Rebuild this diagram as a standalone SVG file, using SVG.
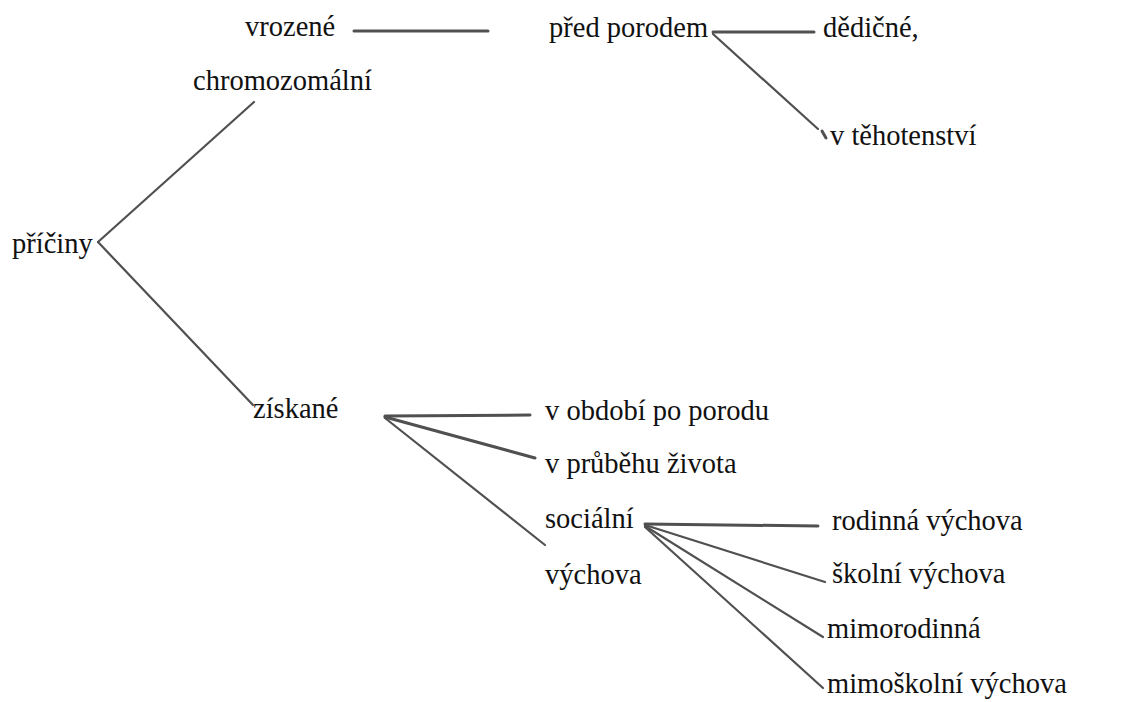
<svg xmlns="http://www.w3.org/2000/svg" width="1140" height="702" viewBox="0 0 1140 702">
<style>
text{font-family:"Liberation Serif","Times New Roman",serif;font-size:28.5px;fill:#111}
.c line{stroke:#505050;stroke-width:2.2;stroke-linecap:round}
.c .h{stroke-width:3}
</style>
<rect width="1140" height="702" fill="#fff"/>
<g class="c" id="connectors">
<line class="h" x1="354" y1="31" x2="488" y2="31"/>
<line class="h" x1="713" y1="32" x2="814" y2="32"/>
<line x1="713" y1="34" x2="818" y2="129"/>
<line x1="822" y1="131" x2="826" y2="138" style="stroke-width:3"/>
<line x1="254" y1="102" x2="98" y2="242"/>
<line x1="98" y1="242" x2="253" y2="405"/>
<line class="h" x1="385" y1="416" x2="530" y2="415"/>
<line class="h" x1="385" y1="417" x2="535" y2="458"/>
<line x1="385" y1="418" x2="545" y2="545"/>
<line class="h" x1="645" y1="524" x2="818" y2="526"/>
<line x1="645" y1="525" x2="825" y2="582"/>
<line x1="645" y1="526" x2="823" y2="637"/>
<line x1="645" y1="527" x2="823" y2="688"/>
</g>
<g id="n-priciny"><text x="12" y="253">příčiny</text></g>
<g id="n-vrozene"><text x="245" y="36">vrozené</text></g>
<g id="n-chromozomalni"><text x="193" y="90">chromozomální</text></g>
<g id="n-pred-porodem"><text x="549" y="37">před porodem</text></g>
<g id="n-dedicne"><text x="823" y="37">dědičné,</text></g>
<g id="n-tehotenstvi"><text x="830" y="145">v těhotenství</text></g>
<g id="n-ziskane"><text x="253" y="418">získané</text></g>
<g id="n-obdobi"><text x="545" y="420">v období po porodu</text></g>
<g id="n-prubehu"><text x="545" y="473">v průběhu života</text></g>
<g id="n-socialni"><text x="545" y="528">sociální</text></g>
<g id="n-vychova"><text x="545" y="584">výchova</text></g>
<g id="n-rodinna"><text x="832" y="530">rodinná výchova</text></g>
<g id="n-skolni"><text x="832" y="583">školní výchova</text></g>
<g id="n-mimorodinna"><text x="827" y="638">mimorodinná</text></g>
<g id="n-mimoskolni"><text x="827" y="693">mimoškolní výchova</text></g>
</svg>
